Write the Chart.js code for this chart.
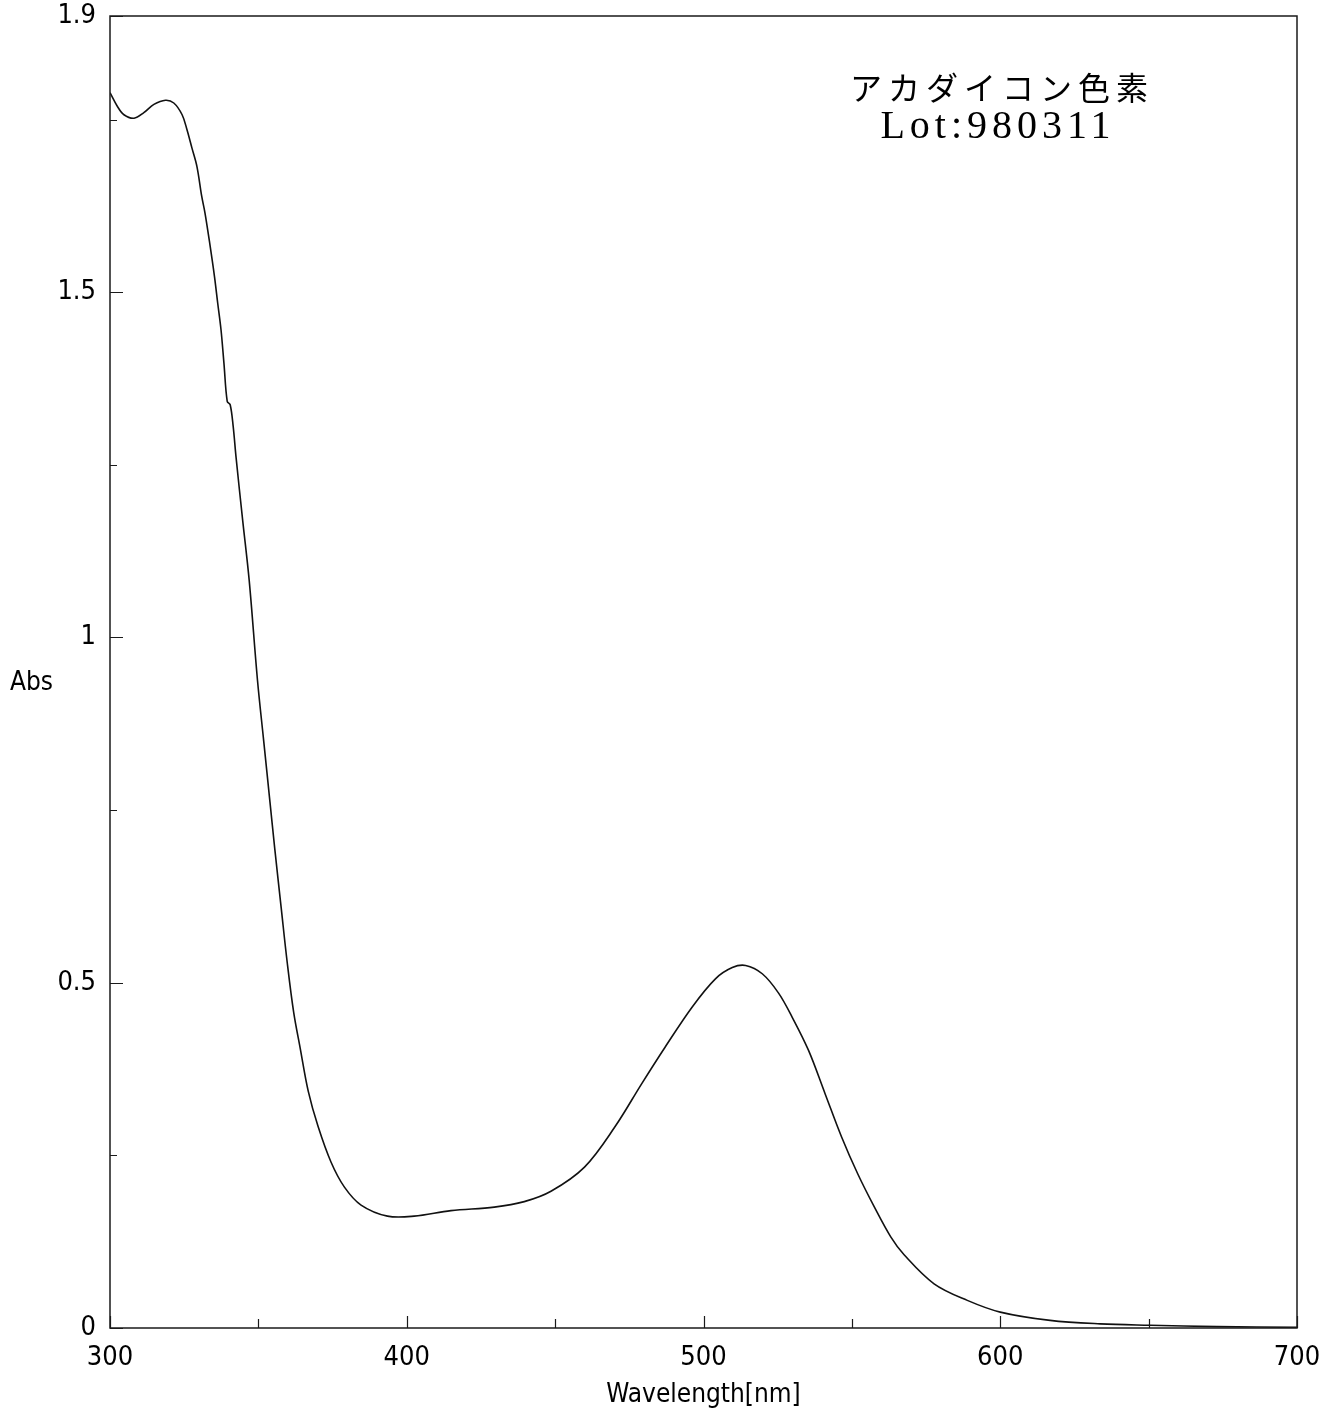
<!DOCTYPE html>
<html>
<head>
<meta charset="utf-8">
<script src="https://cdn.jsdelivr.net/npm/chart.js@4.4.1/dist/chart.umd.min.js"></script>
<style>
  html, body { margin: 0; padding: 0; background: #fff; }
  #wrap { width: 1332px; height: 1417px; position: relative; }
</style>
</head>
<body>
<div id="wrap"><canvas id="spec"></canvas></div>
<script>
const wavelength = [
  300.0, 302.5, 304.7, 308.1, 311.4, 314.8, 318.7, 321.5, 324.3, 325.9,
  327.6, 329.3, 330.9, 332.0, 333.6, 335.2, 336.3, 337.4, 338.4, 339.5,
  340.5, 341.5, 342.5, 344.7, 346.9, 349.7, 351.8, 353.9, 355.5, 357.7,
  359.7, 361.9, 364.1, 366.8, 370.1, 374.5, 379.0, 384.6, 393.5, 402.5,
  414.9, 429.5, 439.6, 448.6, 459.9, 470.1, 479.2, 487.1, 496.2, 504.1,
  509.7, 514.2, 519.8, 525.3, 529.9, 535.4, 541.0, 546.5, 552.0, 557.6,
  563.1, 567.6, 577.7, 588.9, 600.0, 616.8, 633.7, 650.5, 673.0, 700.0
];
const absorbance = [
  1.789, 1.769, 1.757, 1.752, 1.760, 1.772, 1.778, 1.774, 1.757, 1.736,
  1.709, 1.682, 1.639, 1.615, 1.571, 1.523, 1.484, 1.446, 1.397, 1.342,
  1.337, 1.306, 1.260, 1.170, 1.083, 0.938, 0.850, 0.762, 0.695, 0.608,
  0.530, 0.457, 0.405, 0.343, 0.292, 0.240, 0.204, 0.178, 0.162, 0.162,
  0.170, 0.175, 0.183, 0.198, 0.233, 0.291, 0.354, 0.407, 0.465, 0.506,
  0.522, 0.525, 0.513, 0.485, 0.450, 0.402, 0.339, 0.277, 0.223, 0.175,
  0.132, 0.106, 0.064, 0.040, 0.023, 0.011, 0.006, 0.004, 0.002, 0.001
];
const xMajorTicks = [300, 400, 500, 600, 700];
const xMinorTicks = [350, 450, 550, 650];
const yMajorTicks = [0, 0.5, 1, 1.5, 1.9];
const yMinorTicks = [0.25, 0.75, 1.25, 1.75];

const sampleName = 'アカダイコン色素';
const lotLabel = 'Lot:980311';
const xTitle = 'Wavelength[nm]';
const yTitle = 'Abs';

const narrow = "'Liberation Sans Narrow', 'DejaVu Sans Condensed', 'Liberation Sans', sans-serif";

// cadre + graduations vers l'intérieur + textes
const framePlugin = {
  id: 'framePlugin',
  afterDatasetsDraw(chart){
    const {ctx, chartArea: a, scales: {x, y}} = chart;
    ctx.save();
    ctx.strokeStyle = '#1a1a1a';
    ctx.lineWidth = 1.5;
    ctx.strokeRect(a.left, a.top, a.right - a.left, a.bottom - a.top);

    ctx.beginPath();
    const tickX = (vals, len) => vals.forEach(v => {
      const px = Math.round(x.getPixelForValue(v)) + 0.5;
      ctx.moveTo(px, a.bottom); ctx.lineTo(px, a.bottom - len);
    });
    const tickY = (vals, len) => vals.forEach(v => {
      const py = Math.round(y.getPixelForValue(v)) + 0.5;
      ctx.moveTo(a.left, py); ctx.lineTo(a.left + len, py);
    });
    tickX(xMajorTicks, 12); tickX(xMinorTicks, 9);
    tickY(yMajorTicks, 13); tickY(yMinorTicks, 7);
    ctx.lineWidth = 1.2;
    ctx.stroke();

    ctx.fillStyle = '#000';
    ctx.textBaseline = 'middle';

    ctx.font = "26px " + narrow;
    ctx.textAlign = 'center';
    ctx.fillText(xTitle, x.getPixelForValue(500), 1395);
    ctx.textAlign = 'left';
    ctx.fillText(yTitle, 10, 683);

    ctx.textAlign = 'center';
    ctx.font = "32px 'Noto Sans CJK JP', sans-serif";
    ctx.letterSpacing = '6px';
    ctx.fillText(sampleName, 1002, 88);
    ctx.font = "40px 'Liberation Serif', serif";
    ctx.letterSpacing = '5px';
    ctx.fillText(lotLabel, 998, 127);
    ctx.restore();
  }
};

new Chart(document.getElementById('spec'), {
  type: 'line',
  data: {
    datasets: [{
      label: 'Abs',
      data: wavelength.map((w, i) => ({x: w, y: absorbance[i]})),
      borderColor: '#111',
      borderWidth: 1.6,
      pointRadius: 0,
      fill: false,
      tension: 0.35
    }]
  },
  options: {
    responsive: true,
    maintainAspectRatio: false,
    animation: false,
    layout: { padding: { top: 16, right: 35, left: 0, bottom: 0 } },
    plugins: { legend: { display: false }, tooltip: { enabled: false } },
    scales: {
      x: {
        type: 'linear', min: 300, max: 700,
        afterBuildTicks: s => { s.ticks = xMajorTicks.map(v => ({value: v})); },
        afterFit: s => { s.height = 89; s.paddingLeft = 0; s.paddingRight = 0; },
        grid: { display: false, drawTicks: false },
        border: { display: false },
        ticks: { color: '#000', padding: 14, maxRotation: 0, font: { family: narrow, size: 27 }, callback: v => String(v) }
      },
      y: {
        type: 'linear', min: 0, max: 1.9,
        afterBuildTicks: s => { s.ticks = yMajorTicks.map(v => ({value: v})); },
        afterFit: s => { s.width = 110; s.paddingTop = 0; s.paddingBottom = 0; },
        grid: { display: false, drawTicks: false },
        border: { display: false },
        ticks: { color: '#000', padding: 14, font: { family: narrow, size: 27 }, callback: v => String(v) }
      }
    }
  },
  plugins: [framePlugin]
});
</script>
</body>
</html>
